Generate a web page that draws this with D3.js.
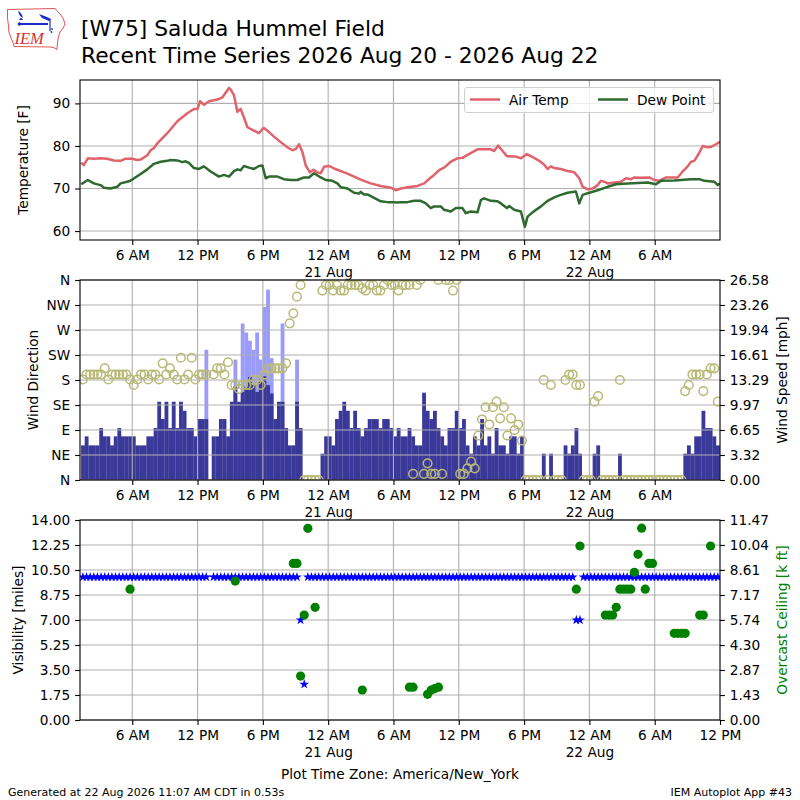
<!DOCTYPE html>
<html><head><meta charset="utf-8">
<script src="https://cdn.jsdelivr.net/npm/d3@7"></script>
<style>body{margin:0;background:#fff;} svg{font-family:"DejaVu Sans",sans-serif;}</style>
</head><body><svg id="c" width="800" height="800"></svg>
<script>
// ---------------- DATA ----------------
// times are hours after 2026-08-20 00:00 (America/New_York)
const airTemp = [[1.31,76.1],[1.55,75.5],[1.92,77.1],[2.47,77.0],[3.09,77.1],[3.70,77.0],[4.31,76.6],[4.93,76.5],[5.39,77.0],[6.00,77.0],[6.46,76.7],[6.77,76.8],[7.38,77.8],[7.69,79.0],[7.99,79.5],[8.30,80.6],[9.22,83.0],[10.14,85.8],[11.06,87.7],[11.67,88.7],[12.00,88.7],[12.22,90.5],[12.59,89.7],[13.05,90.5],[13.82,90.9],[14.28,91.4],[14.58,92.5],[14.89,93.6],[15.04,93.3],[15.35,91.9],[15.66,88.0],[15.81,88.4],[15.96,88.7],[16.26,86.7],[16.58,84.4],[17.18,83.6],[17.64,83.0],[17.96,84.0],[18.10,84.2],[18.42,83.6],[19.02,82.2],[19.64,80.9],[20.25,79.7],[20.72,79.0],[21.02,79.3],[21.32,80.4],[21.63,78.6],[21.94,75.4],[22.33,73.8],[22.65,74.4],[23.01,73.8],[23.32,73.6],[23.62,75.1],[24.08,75.3],[24.54,74.7],[25.77,73.5],[26.99,72.1],[27.91,71.2],[28.83,70.6],[29.75,70.2],[30.21,69.6],[30.67,70.0],[31.29,70.3],[32.21,70.6],[32.82,71.2],[33.43,72.6],[33.73,73.2],[34.19,74.3],[34.65,74.9],[35.27,76.3],[35.88,77.1],[36.34,77.2],[36.80,77.9],[37.72,79.2],[38.95,79.2],[39.25,78.8],[39.62,80.1],[39.87,79.3],[40.42,77.6],[41.25,77.5],[41.71,77.1],[42.26,78.1],[42.78,77.4],[43.39,76.5],[43.85,75.6],[44.16,74.6],[44.46,75.2],[44.77,74.8],[45.38,74.6],[46.00,74.1],[46.61,73.8],[47.07,72.4],[47.38,70.4],[47.84,69.8],[48.30,70.0],[48.76,70.8],[49.06,71.8],[49.37,71.6],[49.68,71.2],[50.29,71.4],[50.90,71.6],[51.36,72.4],[51.82,72.2],[52.13,72.6],[52.74,72.5],[53.51,72.6],[53.96,72.0],[54.42,71.8],[55.04,72.6],[56.11,72.6],[56.57,74.0],[57.03,75.2],[57.34,76.3],[57.64,76.5],[58.10,78.4],[58.41,80.0],[58.87,79.7],[59.18,79.8],[59.63,80.4],[60.00,81.0]];
const dewPoint = [[1.31,71.0],[1.92,72.0],[2.47,71.2],[3.09,70.8],[3.40,70.2],[4.00,70.0],[4.62,70.4],[4.93,71.2],[5.70,71.7],[6.00,72.1],[6.77,73.4],[7.38,74.5],[7.99,75.8],[8.61,76.3],[9.22,76.5],[9.53,76.7],[10.14,76.6],[10.60,76.2],[10.90,76.4],[11.21,76.0],[11.67,74.8],[12.13,74.6],[12.59,75.2],[13.20,74.0],[13.97,72.8],[14.43,73.2],[14.89,72.8],[15.35,74.1],[15.66,74.5],[15.96,74.3],[16.26,75.3],[16.72,74.9],[17.18,74.6],[17.64,75.3],[17.96,75.4],[18.26,72.4],[18.56,72.8],[19.34,72.8],[19.94,72.2],[20.56,72.0],[21.17,72.0],[21.78,72.6],[22.24,72.6],[22.70,73.6],[23.32,72.6],[23.78,72.0],[24.39,71.8],[24.85,71.2],[25.16,70.3],[25.77,70.0],[26.38,69.0],[26.84,68.8],[26.99,69.2],[27.30,68.6],[27.61,68.6],[28.22,67.8],[28.83,67.0],[29.45,66.8],[29.91,66.8],[30.37,66.7],[30.67,66.8],[31.29,66.8],[31.90,67.1],[32.51,67.1],[32.97,66.5],[33.43,65.4],[33.73,65.8],[34.35,65.8],[34.65,65.0],[35.27,64.6],[35.73,65.4],[36.34,65.4],[36.65,64.2],[37.11,64.6],[37.72,64.4],[38.03,67.3],[38.33,67.7],[38.95,67.1],[39.56,67.0],[39.87,66.5],[40.42,65.4],[40.63,65.9],[41.09,65.0],[41.71,64.6],[42.07,61.0],[42.32,63.4],[42.78,64.4],[43.55,65.8],[44.16,67.1],[44.77,67.9],[45.38,68.5],[46.00,69.0],[46.76,69.3],[47.07,66.5],[47.38,68.5],[47.84,68.9],[48.76,69.6],[49.68,70.4],[50.44,71.0],[51.52,71.2],[53.36,71.4],[54.12,71.0],[54.58,71.8],[55.80,71.9],[57.34,72.2],[58.10,72.2],[58.56,71.8],[59.48,71.6],[59.79,70.8],[60.00,71.2]];

// 20-minute observations
const obsStartHour = 1.3;
const obsStepHours = 1/3;
const windSpeed = [
 4.6,5.8,4.6,4.6,4.6,6.9,5.8,5.8,4.6,5.8,
 6.9,5.8,5.8,5.8,5.8,4.6,4.6,4.6,5.8,5.8,
 6.9,10.4,8.1,10.4,6.9,10.4,6.9,10.4,9.2,6.9,
 6.9,5.8,8.1,8.1,8.1,null,5.8,5.8,8.1,8.1,
 5.8,10.4,12.4,10.4,11.7,12.4,13.7,12.7,11.7,13.3,
 13.8,12.6,11.5,8.1,10.4,10.4,6.9,4.6,4.6,10.4,
 6.9,0,0,0,0,0,3.5,5.8,5.8,4.6,
 8.1,9.2,10.4,9.2,6.9,9.2,6.9,5.8,6.9,8.1,
 8.1,8.1,6.9,8.1,8.1,6.9,5.8,6.9,5.8,5.8,
 6.9,5.8,4.6,4.6,11.6,9.2,8.1,9.2,6.9,5.8,
 4.6,6.9,6.9,9.2,6.9,8.1,4.6,3.5,5.8,4.6,
 8.1,4.6,5.8,3.5,6.9,4.6,4.6,3.5,5.8,5.8,
 3.5,5.8,0,0,0,0,0,3.5,0,3.5,
 0,0,0,4.6,3.5,4.6,6.9,3.5,0,0,
 0,3.5,4.6,0,0,0,0,0,3.5,0,
 0,0,0,0,0,0,0,0,0,0,
 0,0,0,0,0,0,3.5,4.6,3.5,5.8,
 5.8,9.2,6.9,6.9,5.8,4.6];
const gustIndex = [34,42,44,45,46,47,48,49,50,51,52,55,59];
const gustSpeed = [17.3,16.0,20.8,19.6,18.5,17.3,19.6,16.0,23.0,25.3,16.2,20.8,16.0];
const windDir = [
 181,190,190,190,190,190,201,181,190,190,
 190,190,190,181,171,181,190,190,181,190,
 190,181,210,190,201,190,181,220,181,190,
 220,181,190,190,190,null,190,201,201,190,
 212,171,171,164,171,171,171,180,180,171,
 190,200,201,201,201,201,210,282,300,330,
 351,0,0,0,0,0,341,351,351,341,
 351,341,341,351,351,351,351,345,341,351,
 351,341,341,351,360,351,351,341,351,351,
 351,11,351,360,11,30,11,11,360,11,
 360,360,341,360,11,11,21,33,21,80,
 109,131,100,131,141,111,131,80,111,90,
 100,71,0,0,0,0,0,180,0,171,
 0,0,0,180,190,190,171,171,0,0,
 0,141,151,0,0,0,0,0,180,0,
 0,0,0,0,0,0,0,0,0,0,
 0,0,0,0,0,0,160,171,190,190,
 190,160,190,201,201,141];
const visibility = [
 10,10,10,10,10,10,10,10,10,10,
 10,10,10,10,10,10,10,10,10,10,
 10,10,10,10,10,10,10,10,10,10,
 10,10,10,10,10,null,10,10,10,10,
 10,10,10,10,10,10,10,10,10,10,
 10,10,10,10,10,10,10,10,10,10,
 7,2.5,10,10,10,10,10,10,10,10,
 10,10,10,10,10,10,10,10,10,10,
 10,10,10,10,10,10,10,10,10,10,
 10,10,10,10,10,10,10,10,10,10,
 10,10,10,10,10,10,10,10,10,10,
 10,10,10,10,10,10,10,10,10,10,
 10,10,10,10,10,10,10,10,10,10,
 10,10,10,10,10,10,7,7,10,10,
 10,10,10,10,10,10,10,10,10,10,
 10,10,10,10,10,10,10,10,10,10,
 10,10,10,10,10,10,10,10,10,10,
 10,10,10,10,10,10];
const ceilIndex = [13,42,58,59,60,61,62,64,77,90,91,95,96,97,98,136,137,144,145,146,147,148,149,150,151,152,153,154,155,156,157,163,164,165,166,170,171,173];
const ceilKft  = [7.5,7.97,8.98,8.98,2.52,6.02,10.99,6.46,1.72,1.88,1.88,1.47,1.72,1.80,1.88,7.5,9.98,6.02,6.02,6.02,6.46,7.5,7.5,7.5,7.5,8.47,9.5,11.0,7.5,8.98,8.98,4.97,4.97,4.97,4.97,6.02,6.02,9.98];

const tempTicks = [60,70,80,90];
const dirTicks = [0,45,90,135,180,225,270,315,360];
const dirLabels = ["N","NE","E","SE","S","SW","W","NW","N"];
const speedTickLabels = ["0.00","3.32","6.65","9.97","13.29","16.61","19.94","23.26","26.58"];
const visTickLabels = ["0.00","1.75","3.50","5.25","7.00","8.75","10.50","12.25","14.00"];
const ceilTickLabels = ["0.00","1.43","2.87","4.30","5.74","7.17","8.61","10.04","11.47"];
const hourTicksTop = [6,12,18,24,30,36,42,48,54];
const hourTicksBottom = [6,12,18,24,30,36,42,48,54,60];

// ---------------- DRAW ----------------
const svg = d3.select("#c");
const FS = 13.7;
const GRID = "#b0b0b0";
const L = 80, R = 720;
const x = d3.scaleLinear().domain([1.2, 60]).range([L, R]);
const obsTime = i => obsStartHour + i * obsStepHours;
const obsCenter = i => obsTime(i) + obsStepHours / 2;

function hourLabel(h) {
  const hh = h % 24;
  if (hh === 0) return "12 AM";
  if (hh === 12) return "12 PM";
  return hh < 12 ? hh + " AM" : (hh - 12) + " PM";
}
const months = "Aug";

function clip(id, top, bottom) {
  svg.append("clipPath").attr("id", id).append("rect")
    .attr("x", L).attr("y", top).attr("width", R - L).attr("height", bottom - top);
}

function xAxis(bottom, ticks) {
  const g = svg.append("g").attr("transform", `translate(0,${bottom})`)
    .call(d3.axisBottom(x).tickValues(ticks).tickSize(4.9).tickPadding(4.9).tickFormat(hourLabel));
  g.select(".domain").remove();
  g.selectAll("line").attr("stroke", "#000").attr("stroke-width", 1.1);
  g.selectAll("text").attr("font-size", FS).attr("fill", "#000").attr("font-family", "DejaVu Sans")
    .each(function(h) {
      if (h % 24 === 0 && h > 0 && h < 60) {
        d3.select(this).append("tspan").attr("x", 0).attr("dy", "1.28em")
          .text((20 + h / 24) + " " + months);
      }
    });
}

function vGrid(top, bottom, ticks) {
  svg.append("g").selectAll("line").data(ticks).join("line")
    .attr("x1", d => x(d)).attr("x2", d => x(d)).attr("y1", top).attr("y2", bottom)
    .attr("stroke", GRID).attr("stroke-width", 1.1);
}
function hGrid(scale, ticks) {
  svg.append("g").selectAll("line").data(ticks).join("line")
    .attr("x1", L).attr("x2", R).attr("y1", d => scale(d)).attr("y2", d => scale(d))
    .attr("stroke", GRID).attr("stroke-width", 1.1);
}
function frame(top, bottom) {
  svg.append("rect").attr("x", L).attr("y", top).attr("width", R - L).attr("height", bottom - top)
    .attr("fill", "none").attr("stroke", "#000").attr("stroke-width", 1.1);
}
function yAxis(scale, ticks, labels, side) {
  const ax = side === "left" ? d3.axisLeft(scale) : d3.axisRight(scale);
  const g = svg.append("g").attr("transform", `translate(${side === "left" ? L : R},0)`)
    .call(ax.tickValues(ticks).tickSize(4.9).tickPadding(4.9).tickFormat((d, i) => labels[i]));
  g.select(".domain").remove();
  g.selectAll("line").attr("stroke", "#000").attr("stroke-width", 1.1);
  g.selectAll("text").attr("font-size", FS).attr("fill", "#000").attr("font-family", "DejaVu Sans");
}
function yLabel(text, cx, cy, color) {
  svg.append("text").attr("transform", `translate(${cx},${cy}) rotate(-90)`)
    .attr("text-anchor", "middle").attr("dominant-baseline", "central")
    .attr("font-size", FS).attr("fill", color || "#000").text(text);
}

// ---- Title & logo ----
svg.append("text").attr("x", 81).attr("y", 36).attr("font-size", 21.8).text("[W75] Saluda Hummel Field");
svg.append("text").attr("x", 81).attr("y", 63).attr("font-size", 21.8).text("Recent Time Series 2026 Aug 20 - 2026 Aug 22");

const logo = svg.append("g");
logo.append("path")
  .attr("d", "M7.5,9.5 L55,8.5 Q57,11 60,14 Q64,18 65,24 Q64,28 60,32 Q58,37 57.5,42 L57,49.5 Q55,47.5 51,47 L14,46.5 Q13,42 11,38 Q8,32 8.5,26 Q7,18 7.5,9.5 Z")
  .attr("fill", "none").attr("stroke", "#e04040").attr("stroke-width", 0.9);
logo.append("line").attr("x1", 19).attr("y1", 24).attr("x2", 48).attr("y2", 24).attr("stroke", "#1a2ccc").attr("stroke-width", 2);
logo.append("circle").attr("cx", 19.5).attr("cy", 24).attr("r", 1.8).attr("fill", "#1a2ccc");
logo.append("path").attr("d", "M18,11 L20,12 L22,15 L23,18 L20,16 Z").attr("fill", "#1a2ccc");
logo.append("path").attr("d", "M19,20 L21,17.5 L23,20 Z").attr("fill", "#1a2ccc");
logo.append("path").attr("d", "M39,14 L47,17 L51,19 L49,21 L42,18 Z").attr("fill", "#1a2ccc");
logo.append("line").attr("x1", 50).attr("y1", 19).attr("x2", 50).attr("y2", 31).attr("stroke", "#1a2ccc").attr("stroke-width", 1.2);
logo.append("circle").attr("cx", 52).attr("cy", 29).attr("r", 0.9).attr("fill", "#1a2ccc");
logo.append("circle").attr("cx", 51.5).attr("cy", 32).attr("r", 0.9).attr("fill", "#1a2ccc");
logo.append("text").attr("x", 14.5).attr("y", 43.5).attr("font-family", "Liberation Serif").attr("font-style", "italic")
  .attr("font-size", 16.5).attr("fill", "#d83030").text("IEM");

// ---- Panel 1: temperature ----
const T1 = 80, B1 = 240;
const yT = d3.scaleLinear().domain([57.9, 95.5]).range([B1, T1]);
clip("cp1", T1, B1);
vGrid(T1, B1, hourTicksTop);
hGrid(yT, tempTicks);
const line = d3.line().x(d => x(d[0])).y(d => yT(d[1]));
const lg = svg.append("g").attr("clip-path", "url(#cp1)");
lg.append("path").datum(airTemp).attr("d", line).attr("fill", "none").attr("stroke", "#e0636b").attr("stroke-width", 2.5).attr("stroke-linejoin", "round");
lg.append("path").datum(dewPoint).attr("d", line).attr("fill", "none").attr("stroke", "#2e6a30").attr("stroke-width", 2.5).attr("stroke-linejoin", "round");
frame(T1, B1);
yAxis(yT, tempTicks, tempTicks.map(String), "left");
xAxis(B1, hourTicksTop);
yLabel("Temperature [F]", 23, 160);
// legend
const leg = svg.append("g");
leg.append("rect").attr("x", 464.5).attr("y", 87.5).attr("width", 249).attr("height", 25).attr("rx", 2.5)
  .attr("fill", "#fff").attr("fill-opacity", 0.8).attr("stroke", "#d0d0d0").attr("stroke-width", 1);
[["Air Temp", "#e0636b", 470], ["Dew Point", "#2e6a30", 598]].forEach(([t, c, lx]) => {
  leg.append("line").attr("x1", lx).attr("x2", lx + 30).attr("y1", 99.5).attr("y2", 99.5).attr("stroke", c).attr("stroke-width", 2.5);
  leg.append("text").attr("x", lx + 39).attr("y", 104.5).attr("font-size", FS).text(t);
});

// ---- Panel 2: wind ----
const T2 = 280, B2 = 480;
const yDir = d3.scaleLinear().domain([0, 360]).range([B2, T2]);
const ySpd = d3.scaleLinear().domain([0, 26.58]).range([B2, T2]);
clip("cp2", T2, B2);
const bw = x(obsTime(1)) - x(obsTime(0));
const bars = svg.append("g").attr("clip-path", "url(#cp2)");
bars.selectAll("rect.g").data(gustIndex).join("rect").attr("class", "g")
  .attr("x", i => x(obsTime(i))).attr("width", bw + 0.2)
  .attr("y", (i, k) => ySpd(gustSpeed[k])).attr("height", (i, k) => B2 - ySpd(gustSpeed[k]))
  .attr("fill", "#9b9bfb");
bars.selectAll("rect.s").data(windSpeed.map((v, i) => [i, v]).filter(d => d[1] != null && d[1] > 0)).join("rect").attr("class", "s")
  .attr("x", d => x(obsTime(d[0]))).attr("width", bw + 0.2)
  .attr("y", d => ySpd(d[1])).attr("height", d => B2 - ySpd(d[1]))
  .attr("fill", "#3a3898");
vGrid(T2, B2, hourTicksTop);
hGrid(yDir, dirTicks);
svg.append("g").attr("clip-path", "url(#cp2)").selectAll("circle")
  .data(windDir.map((v, i) => [i, v]).filter(d => d[1] != null)).join("circle")
  .attr("cx", d => x(obsCenter(d[0]))).attr("cy", d => yDir(d[1])).attr("r", 4.3)
  .attr("fill", "none").attr("stroke", "#b9b977").attr("stroke-width", 1.5);
frame(T2, B2);
yAxis(yDir, dirTicks, dirLabels, "left");
yAxis(ySpd, speedTickLabels.map(Number), speedTickLabels, "right");
xAxis(B2, hourTicksTop);
yLabel("Wind Direction", 33, 380);
yLabel("Wind Speed [mph]", 782, 380);

// ---- Panel 3: visibility & ceiling ----
const T3 = 520, B3 = 720;
const yVis = d3.scaleLinear().domain([0, 14]).range([B3, T3]);
const yCeil = d3.scaleLinear().domain([0, 11.47]).range([B3, T3]);
clip("cp3", T3, B3);
vGrid(T3, B3, hourTicksBottom.slice(0, -1));
hGrid(yVis, visTickLabels.map(Number));
const p3 = svg.append("g").attr("clip-path", "url(#cp3)");
const star = d3.symbol().type(d3.symbolStar).size(30);
p3.selectAll("path.v").data(visibility.map((v, i) => [i, v]).filter(d => d[1] != null)).join("path").attr("class", "v")
  .attr("d", star).attr("transform", d => `translate(${x(obsCenter(d[0]))},${yVis(d[1])})`).attr("fill", "#0000ff");
p3.selectAll("circle").data(ceilIndex).join("circle")
  .attr("cx", i => x(obsCenter(i))).attr("cy", (i, k) => yCeil(ceilKft[k])).attr("r", 4.6).attr("fill", "#008000");
frame(T3, B3);
yAxis(yVis, visTickLabels.map(Number), visTickLabels, "left");
yAxis(yCeil, ceilTickLabels.map(Number), ceilTickLabels, "right");
xAxis(B3, hourTicksBottom);
yLabel("Visibility [miles]", 18, 620);
yLabel("Overcast Ceiling [k ft]", 782, 620, "#008000");

// ---- Footer ----
svg.append("text").attr("x", 400).attr("y", 779).attr("text-anchor", "middle").attr("font-size", FS).text("Plot Time Zone: America/New_York");
svg.append("text").attr("x", 8).attr("y", 796).attr("font-size", 11).text("Generated at 22 Aug 2026 11:07 AM CDT in 0.53s");
svg.append("text").attr("x", 792).attr("y", 796).attr("text-anchor", "end").attr("font-size", 11).text("IEM Autoplot App #43");
</script></body></html>
